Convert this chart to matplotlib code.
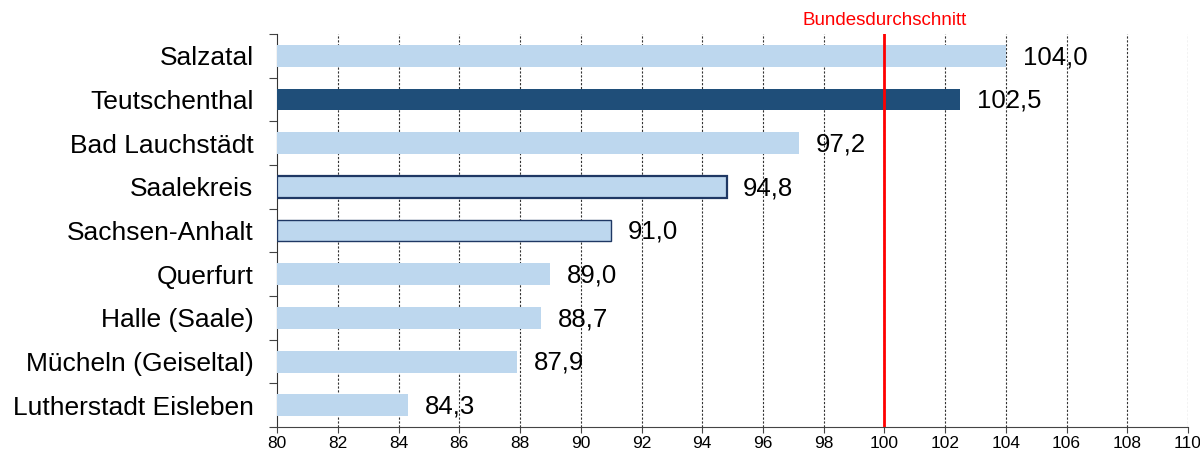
import matplotlib.pyplot as plt
import numpy as np

plt.rcParams['font.family'] = ['Liberation Sans', 'DejaVu Sans']

regions = ["Salzatal", "Teutschenthal", "Bad Lauchstädt", "Saalekreis",
           "Sachsen-Anhalt", "Querfurt", "Halle (Saale)", "Mücheln (Geiseltal)",
           "Lutherstadt Eisleben"]
values = [104.0, 102.5, 97.2, 94.8, 91.0, 89.0, 88.7, 87.9, 84.3]
xticks = list(range(80, 111, 2))
bundesschnitt = 100

light = "#BDD7EE"
dark = "#1F4E79"
navy = "#1F3864"

fig = plt.figure(figsize=(12, 4.53), dpi=100)
ax = fig.add_axes([0.231, 0.057, 0.759, 0.868])

n = len(regions)
ypos = np.arange(n)[::-1]
for i, (name, v) in enumerate(zip(regions, values)):
    y = ypos[i]
    if name == "Teutschenthal":
        ax.barh(y, v - 80, left=80, height=0.5, color=dark, zorder=3)
    elif name == "Saalekreis":
        ax.barh(y, v - 80, left=80, height=0.5, color=light, edgecolor=navy, linewidth=1.6, zorder=3)
    elif name == "Sachsen-Anhalt":
        ax.barh(y, v - 80, left=80, height=0.5, color=light, edgecolor=navy, linewidth=1.0, zorder=3)
    else:
        ax.barh(y, v - 80, left=80, height=0.5, color=light, zorder=3)
    ax.text(v + 0.55, y - 0.03, f"{v:.1f}".replace(".", ","), fontsize=18.5,
            va="center", ha="left", zorder=4)

ax.set_xlim(80, 110)
ax.set_ylim(-0.5, n - 0.5)
ax.set_xticks(xticks)
ax.set_xticklabels([str(t) for t in xticks], fontsize=12.5)
ax.tick_params(axis="x", length=4, direction="out", color="#444444", pad=2)

ax.set_yticks(np.arange(n + 1) - 0.5)
ax.set_yticklabels([])
ax.set_yticks(ypos, minor=True)
ax.set_yticklabels(regions, minor=True, fontsize=19)
ax.tick_params(axis="y", which="major", length=6, color="#444444")
ax.tick_params(axis="y", which="minor", length=0, pad=17)

for x in xticks[1:]:
    ax.axvline(x, color="#333333", linestyle=(0, (2, 1.5)), linewidth=0.8, zorder=1)

ax.axvline(bundesschnitt, color="red", linewidth=2, zorder=5)
ax.text(bundesschnitt, n - 0.5 + 0.3, "Bundesdurchschnitt", color="red",
        fontsize=13.5, ha="center", va="center", clip_on=False)

for s in ["top", "right"]:
    ax.spines[s].set_visible(False)
ax.spines["left"].set_color("#333333")
ax.spines["bottom"].set_color("#444444")

fig.savefig("out.png", dpi=100)
